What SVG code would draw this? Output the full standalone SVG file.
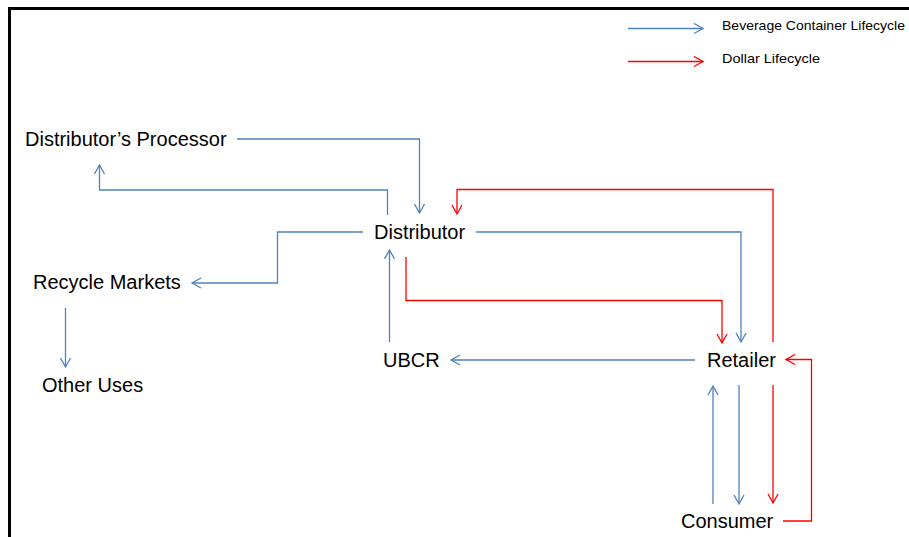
<svg xmlns="http://www.w3.org/2000/svg" width="909" height="537" viewBox="0 0 909 537">
<style>
.lbl{font-family:"Liberation Sans",Arial,sans-serif;font-size:20px;fill:#000}
.leg{font-family:"Liberation Sans",Arial,sans-serif;font-size:13px;fill:#000}
.b{fill:none;stroke:#4F81BD;stroke-width:1.3;marker-end:url(#ab)}
.r{fill:none;stroke:#FF0000;stroke-width:1.3;marker-end:url(#ar)}
</style>
<defs>
<marker id="ab" markerUnits="userSpaceOnUse" viewBox="-10 -6 12 12" refX="0" refY="0" markerWidth="12" markerHeight="12" orient="auto">
<path d="M-9,-5 L0,0 L-9,5" fill="none" stroke="#4F81BD" stroke-width="1.3"/>
</marker>
<marker id="ar" markerUnits="userSpaceOnUse" viewBox="-10 -6 12 12" refX="0" refY="0" markerWidth="12" markerHeight="12" orient="auto">
<path d="M-9,-5 L0,0 L-9,5" fill="none" stroke="#FF0000" stroke-width="1.3"/>
</marker>
</defs>
<rect width="909" height="537" fill="#fff"/>
<path d="M9.5,537 V8.5 H909" fill="none" stroke="#000" stroke-width="3"/>
<g id="legend">
<path class="b" d="M628,28.5 H703"/>
<text class="leg" x="722" y="30" textLength="183" lengthAdjust="spacingAndGlyphs">Beverage Container Lifecycle</text>
<path class="r" d="M628,61.5 H703"/>
<text class="leg" x="722" y="63" textLength="98" lengthAdjust="spacingAndGlyphs">Dollar Lifecycle</text>
</g>
<g id="connectors">
<path class="b" d="M237,139 H419.5 V213"/>
<path class="b" d="M387.5,215 V190 H99.5 V165"/>
<path class="b" d="M363,232 H277.5 V283 H192"/>
<path class="b" d="M65.5,308 V367"/>
<path class="b" d="M389.5,342 V250"/>
<path class="b" d="M695,360 H451"/>
<path class="b" d="M476,232 H741 V342"/>
<path class="b" d="M713,504 V386"/>
<path class="b" d="M739,385 V504"/>
<path class="r" d="M406,257 V300.5 H722 V343"/>
<path class="r" d="M773,342 V189.5 H457 V214"/>
<path class="r" d="M773,385 V503"/>
<path class="r" d="M783,521 H811.5 V359.5 H786"/>
</g>
<g id="distributors-processor"><text class="lbl" x="25" y="146">Distributor’s Processor</text></g>
<g id="distributor"><text class="lbl" x="374" y="239">Distributor</text></g>
<g id="recycle-markets"><text class="lbl" x="33" y="289">Recycle Markets</text></g>
<g id="other-uses"><text class="lbl" x="42" y="392">Other Uses</text></g>
<g id="ubcr"><text class="lbl" x="383" y="367">UBCR</text></g>
<g id="retailer"><text class="lbl" x="707" y="367">Retailer</text></g>
<g id="consumer"><text class="lbl" x="681" y="528">Consumer</text></g>
</svg>
